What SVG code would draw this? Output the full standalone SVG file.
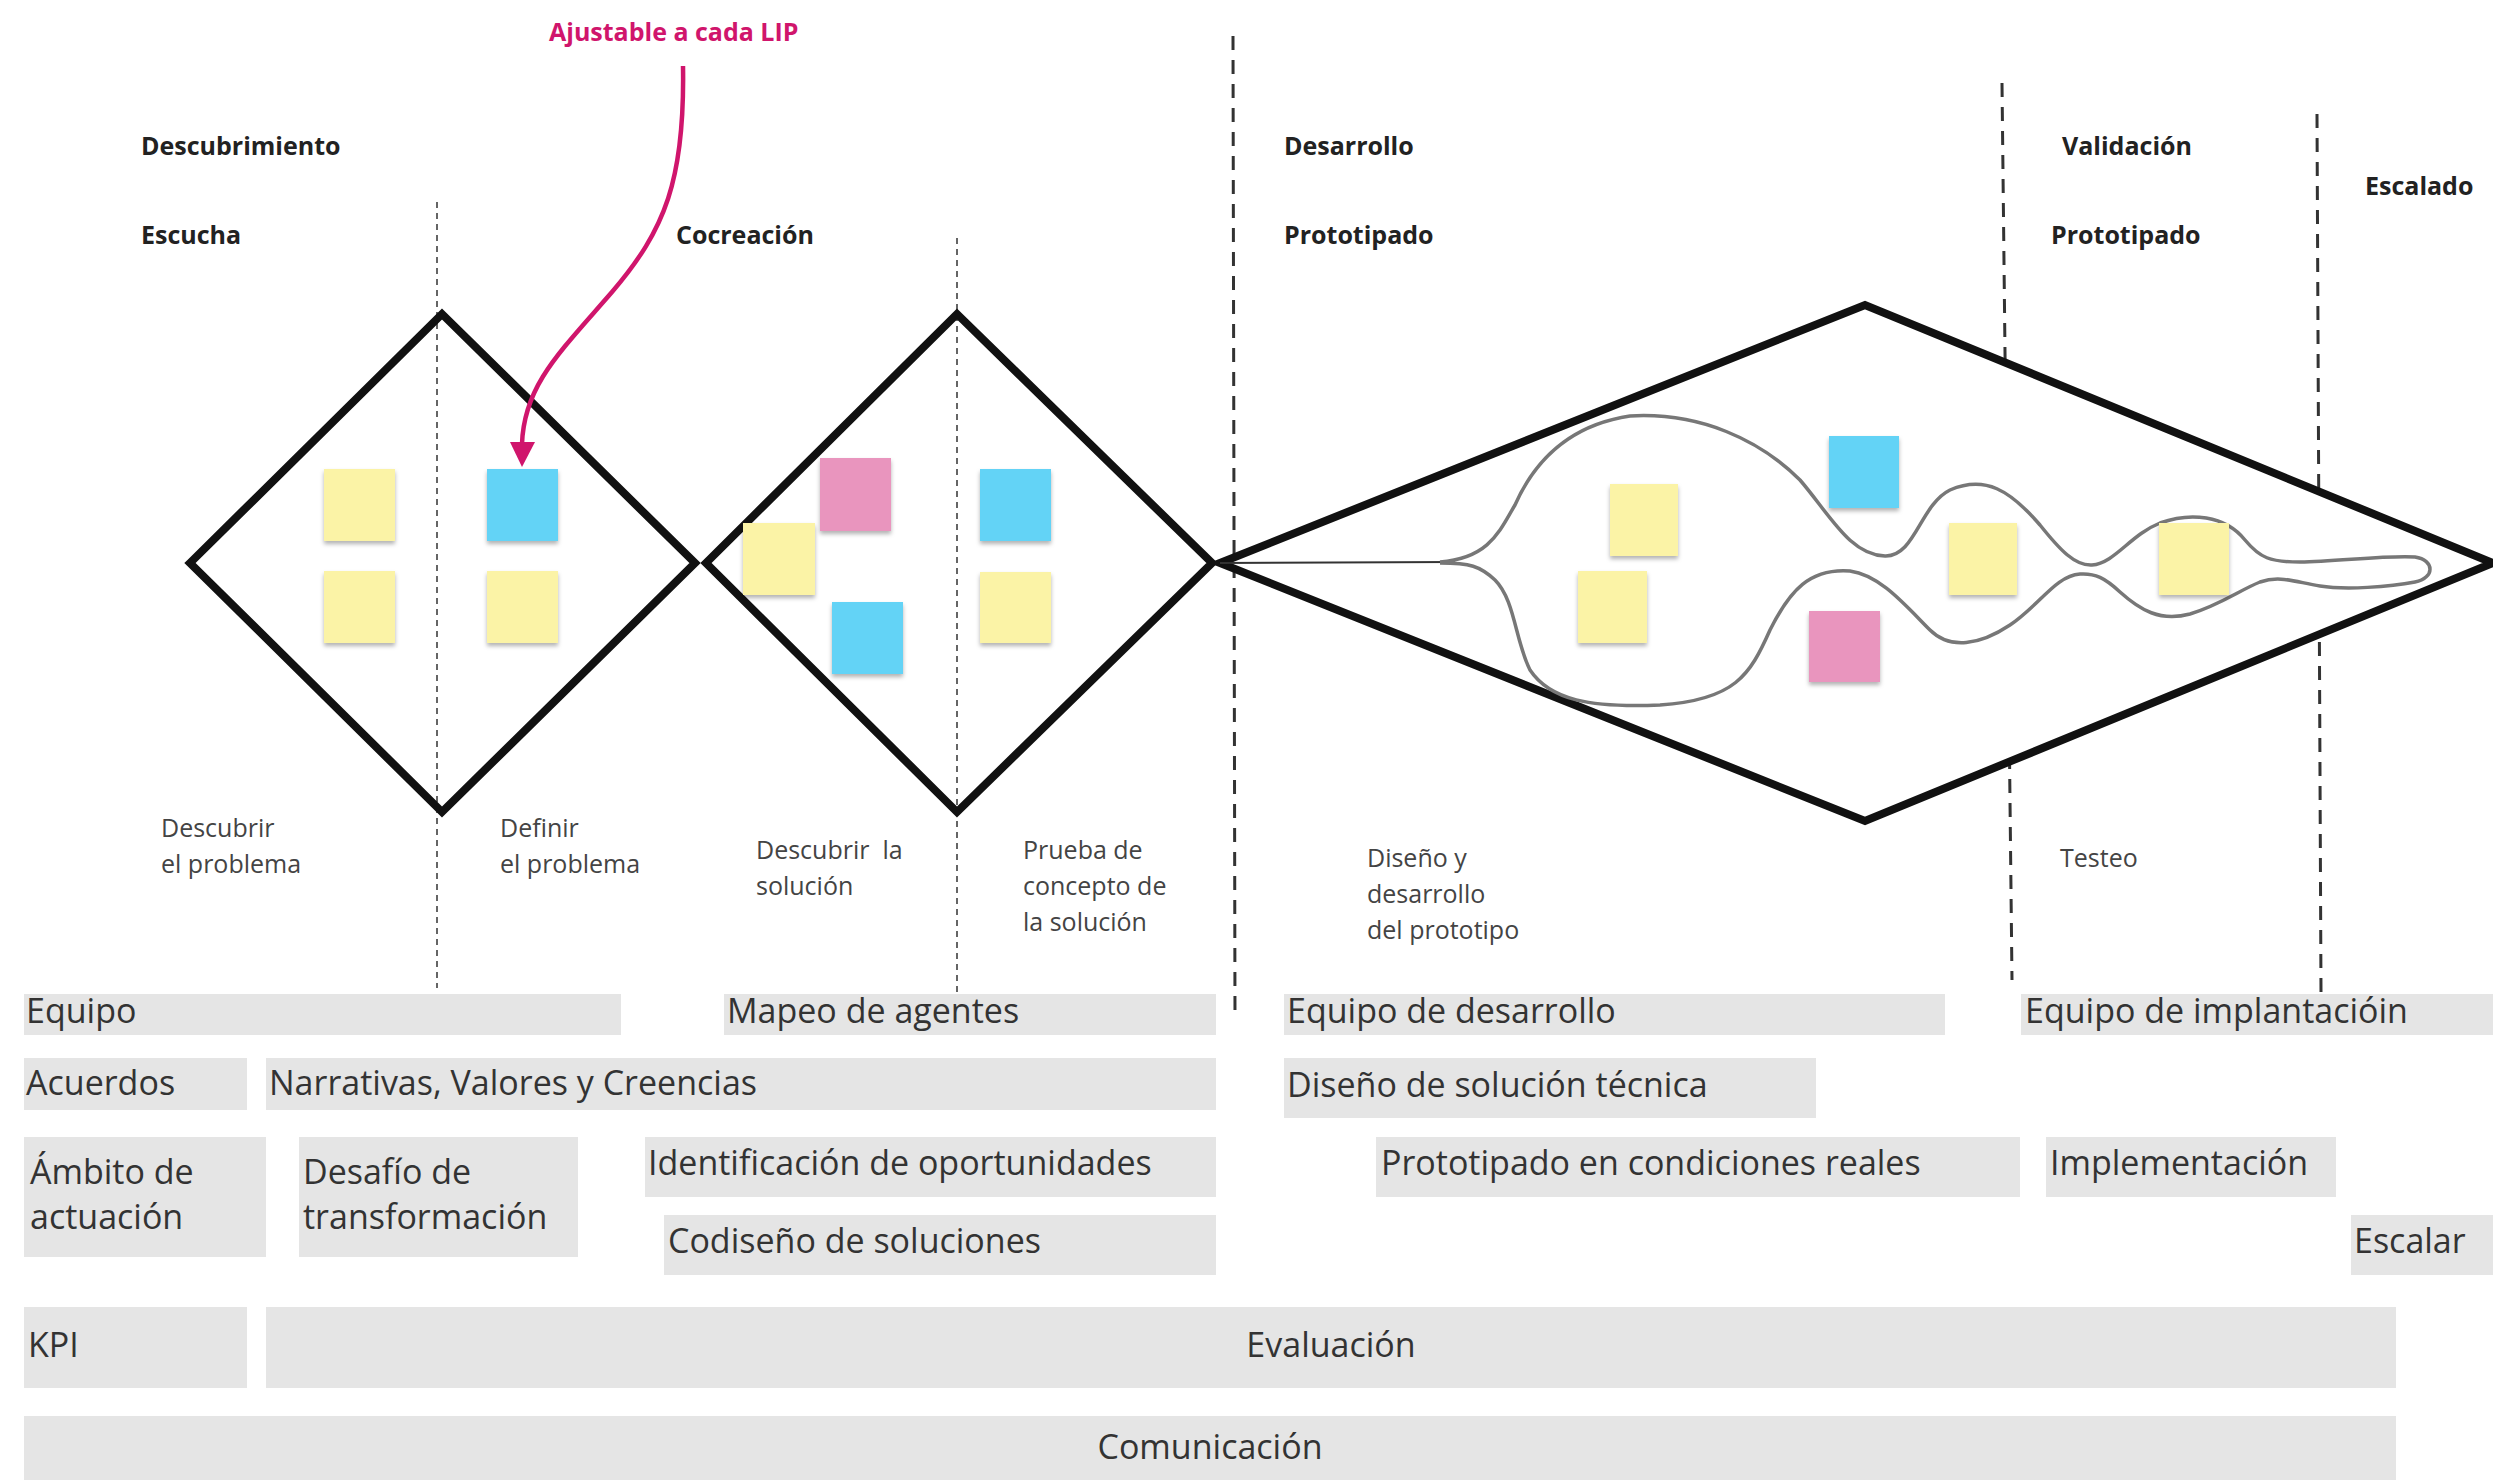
<svg xmlns="http://www.w3.org/2000/svg" width="2493" height="1480" viewBox="0 0 2493 1480">
<style>
.hd{font-family:"Open Sans","Noto Sans",sans-serif;font-weight:700;font-size:25px;fill:#222}
.lb{font-family:"Open Sans","Noto Sans",sans-serif;font-size:25px;fill:#444;white-space:pre}
.bt{font-family:"Open Sans","Noto Sans",sans-serif;font-size:34px;fill:#333}
.bar{fill:#e5e5e5}
.thin{stroke:#555;stroke-width:1.8;stroke-dasharray:6 5;fill:none}
.thick{stroke:#333;stroke-width:3;stroke-dasharray:14 10;fill:none}
.dia{stroke:#111;stroke-width:8;stroke-linejoin:miter;fill:none}
.y{fill:#fbf3a6}
.b{fill:#64d3f6}
.p{fill:#e995be}
</style>
<defs>
<filter id="sh" x="-20%" y="-20%" width="140%" height="150%">
<feDropShadow dx="0" dy="3" stdDeviation="2" flood-color="#000" flood-opacity="0.3"/>
</filter>
</defs>
<rect width="2493" height="1480" fill="#fff"/>

<g id="dividers">
<line class="thin" x1="437" y1="202" x2="437" y2="988"/>
<line class="thin" x1="957" y1="238" x2="957" y2="994"/>
<line class="thick" x1="1233" y1="36" x2="1235" y2="1018"/>
<line class="thick" x1="2002" y1="83" x2="2012" y2="980"/>
<line class="thick" x1="2317" y1="114" x2="2321" y2="993"/>
</g>

<g id="headers">
<text class="hd" x="141" y="155">Descubrimiento</text>
<text class="hd" x="141" y="244">Escucha</text>
<text class="hd" x="676" y="244">Cocreación</text>
<text class="hd" x="1284" y="155">Desarrollo</text>
<text class="hd" x="1284" y="244">Prototipado</text>
<text class="hd" x="2062" y="155">Validación</text>
<text class="hd" x="2051" y="244">Prototipado</text>
<text class="hd" x="2365" y="195">Escalado</text>
</g>

<g id="diamond-1">
<polygon class="dia" points="190,563 442,314 695,563 442,812"/>
</g>
<g id="diamond-2">
<polygon class="dia" points="706,563 957,314 1212,563 957,812"/>
</g>
<g id="diamond-3">
<polygon class="dia" style="fill:#fff" points="1220,563 1865,305 2493,563 1865,821"/>
</g>

<g id="notes" filter="url(#sh)">
<rect class="y" x="324" y="469" width="71" height="72"/>
<rect class="y" x="324" y="571" width="71" height="72"/>
<rect class="b" x="487" y="469" width="71" height="72"/>
<rect class="y" x="487" y="571" width="71" height="72"/>
<rect class="p" x="820" y="458" width="71" height="73"/>
<rect class="y" x="743" y="523" width="72" height="72"/>
<rect class="b" x="832" y="602" width="71" height="72"/>
<rect class="b" x="980" y="469" width="71" height="72"/>
<rect class="y" x="980" y="572" width="71" height="71"/>
</g>

<g id="connectors">
<path d="M1220,563 L1455,562" stroke="#333" stroke-width="2" fill="none"/>
<path d="M1440,562 C1490,558 1500,530 1515,505 C1535,460 1570,425 1630,416 C1700,412 1760,440 1800,480 C1830,515 1850,555 1885,556 C1915,557 1920,505 1950,490 C1985,475 2010,490 2040,525 C2060,550 2075,566 2092,565 C2115,563 2130,535 2160,523 C2190,512 2225,515 2245,540 C2260,558 2270,562 2300,562 C2340,561 2390,555 2415,557 C2435,560 2435,578 2415,582 C2390,587 2345,590 2320,586 C2295,582 2280,575 2260,582 C2240,590 2220,605 2190,614 C2160,622 2140,610 2120,592 C2105,578 2095,573 2080,574 C2055,576 2040,605 2010,625 C1980,645 1950,650 1930,630 C1905,605 1880,575 1850,571 C1810,568 1790,590 1770,630 C1750,675 1735,700 1660,705 C1590,708 1550,700 1530,670 C1515,640 1515,600 1495,580 C1480,566 1470,563 1440,563" stroke="#777" stroke-width="3.5" fill="none"/>
<path d="M683,66 C685,180 665,230 612,292 C560,352 524,385 522,444" stroke="#d0156c" stroke-width="4.5" fill="none"/>
<polygon points="510,442 535,442 522,467" fill="#d0156c"/>
</g>

<g id="notes-3" filter="url(#sh)">
<rect class="y" x="1610" y="484" width="68" height="72"/>
<rect class="y" x="1578" y="571" width="69" height="72"/>
<rect class="b" x="1829" y="436" width="70" height="72"/>
<rect class="p" x="1809" y="611" width="71" height="71"/>
<rect class="y" x="1949" y="523" width="68" height="72"/>
<rect class="y" x="2159" y="523" width="70" height="72"/>
</g>

<g id="annotation">
<text x="549" y="41" style="font-family:'Open Sans','Noto Sans',sans-serif;font-weight:700;font-size:25px;fill:#d0156c">Ajustable a cada LIP</text>
</g>

<g id="labels">
<text class="lb" x="161" y="837">Descubrir</text>
<text class="lb" x="161" y="873">el problema</text>
<text class="lb" x="500" y="837">Definir</text>
<text class="lb" x="500" y="873">el problema</text>
<text class="lb" x="756" y="859">Descubrir  la</text>
<text class="lb" x="756" y="895">solución</text>
<text class="lb" x="1023" y="859">Prueba de</text>
<text class="lb" x="1023" y="895">concepto de</text>
<text class="lb" x="1023" y="931">la solución</text>
<text class="lb" x="1367" y="867">Diseño y</text>
<text class="lb" x="1367" y="903">desarrollo</text>
<text class="lb" x="1367" y="939">del prototipo</text>
<text class="lb" x="2060" y="867">Testeo</text>
</g>

<g id="bar-equipo"><rect class="bar" x="24" y="994" width="597" height="41"/><text class="bt" x="26" y="1023">Equipo</text></g>
<g id="bar-mapeo"><rect class="bar" x="724" y="994" width="492" height="41"/><text class="bt" x="727" y="1023">Mapeo de agentes</text></g>
<g id="bar-equipo-desarrollo"><rect class="bar" x="1284" y="994" width="661" height="41"/><text class="bt" x="1287" y="1023">Equipo de desarrollo</text></g>
<g id="bar-equipo-implantacion"><rect class="bar" x="2021" y="994" width="472" height="41"/><text class="bt" x="2025" y="1023">Equipo de implantacióin</text></g>

<g id="bar-acuerdos"><rect class="bar" x="24" y="1058" width="223" height="52"/><text class="bt" x="26" y="1095">Acuerdos</text></g>
<g id="bar-narrativas"><rect class="bar" x="266" y="1058" width="950" height="52"/><text class="bt" x="269" y="1095">Narrativas, Valores y Creencias</text></g>
<g id="bar-diseno"><rect class="bar" x="1284" y="1058" width="532" height="60"/><text class="bt" x="1287" y="1097">Diseño de solución técnica</text></g>

<g id="bar-ambito"><rect class="bar" x="24" y="1137" width="242" height="120"/><text class="bt" x="30" y="1184">Ámbito de</text><text class="bt" x="30" y="1229">actuación</text></g>
<g id="bar-desafio"><rect class="bar" x="299" y="1137" width="279" height="120"/><text class="bt" x="303" y="1184">Desafío de</text><text class="bt" x="303" y="1229">transformación</text></g>
<g id="bar-identificacion"><rect class="bar" x="645" y="1137" width="571" height="60"/><text class="bt" x="648" y="1175">Identificación de oportunidades</text></g>
<g id="bar-prototipado"><rect class="bar" x="1376" y="1137" width="644" height="60"/><text class="bt" x="1381" y="1175">Prototipado en condiciones reales</text></g>
<g id="bar-implementacion"><rect class="bar" x="2046" y="1137" width="290" height="60"/><text class="bt" x="2050" y="1175">Implementación</text></g>

<g id="bar-codiseno"><rect class="bar" x="664" y="1215" width="552" height="60"/><text class="bt" x="668" y="1253">Codiseño de soluciones</text></g>
<g id="bar-escalar"><rect class="bar" x="2351" y="1215" width="142" height="60"/><text class="bt" x="2354" y="1253">Escalar</text></g>

<g id="bar-kpi"><rect class="bar" x="24" y="1307" width="223" height="81"/><text class="bt" x="28" y="1357">KPI</text></g>
<g id="bar-evaluacion"><rect class="bar" x="266" y="1307" width="2130" height="81"/><text class="bt" x="1331" y="1357" text-anchor="middle">Evaluación</text></g>
<g id="bar-comunicacion"><rect class="bar" x="24" y="1416" width="2372" height="64"/><text class="bt" x="1210" y="1459" text-anchor="middle">Comunicación</text></g>
</svg>
